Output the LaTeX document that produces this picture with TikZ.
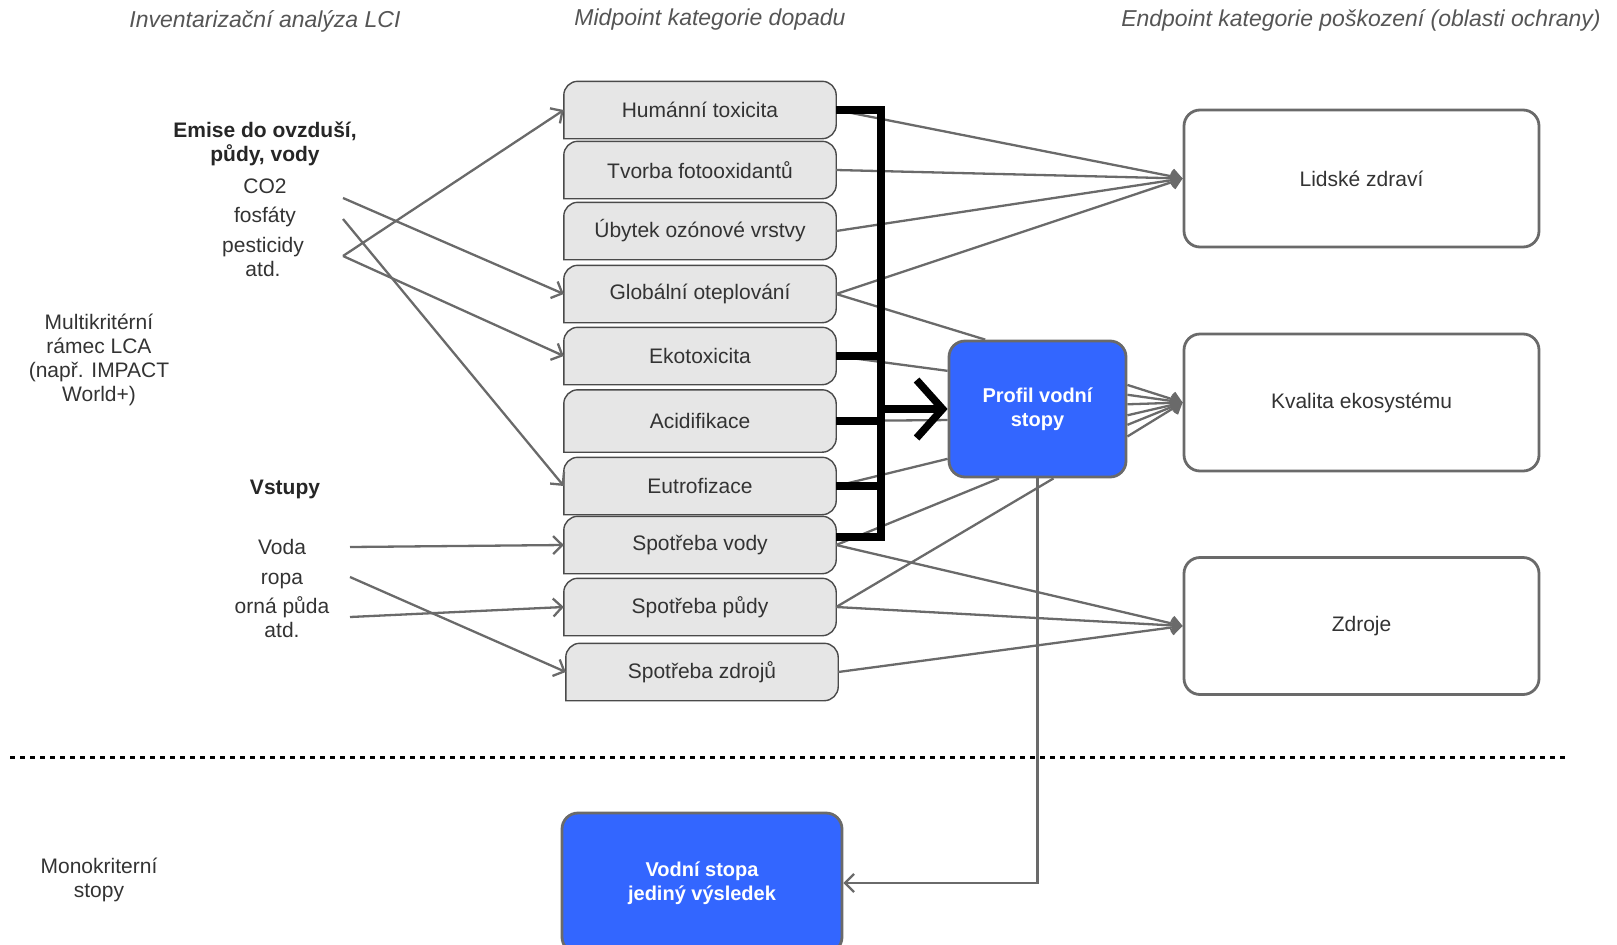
\documentclass[tikz,border=0pt]{standalone}
\usepackage{fontspec}
\setmainfont{Liberation Sans}
\usepackage{tikz}
\usetikzlibrary{arrows.meta,backgrounds}

\definecolor{linegray}{HTML}{6A6A6A}
\definecolor{cardfill}{HTML}{E6E6E6}
\definecolor{cardline}{HTML}{4A4A4A}
\definecolor{stopblue}{HTML}{3366FF}
\definecolor{txtgray}{HTML}{333333}
\definecolor{headgray}{HTML}{555555}

\begin{document}
\begin{tikzpicture}[x=1pt,y=-1pt,
  txt/.style={text=txtgray,font=\fontsize{21}{24}\selectfont,align=center,inner sep=0pt},
  head/.style={text=headgray,font=\fontsize{23}{26}\selectfont\itshape,inner sep=0pt},
  bold/.style={txt,font=\fontsize{21}{24}\selectfont\bfseries,text=black!85},
  mid/.style={txt,minimum width=272pt,minimum height=57pt},
  card/.style={draw=cardline,fill=cardfill,line width=1.4pt},
  endbox/.style={txt,draw=linegray,line width=2.8pt,rounded corners=16pt,minimum width=355pt,minimum height=137pt},
  bluebox/.style={draw=linegray,fill=stopblue,line width=2.8pt,rounded corners=16pt,text=white,font=\fontsize{20}{24}\selectfont\bfseries,align=center},
  link/.style={draw=linegray,line width=2.3pt},
  inarr/.style={link,-{Straight Barb[length=9pt,width=18pt]}},
  outarr/.style={link,-{Straight Barb[length=9pt,width=14pt]}},
  bus/.style={line width=7.5pt,black},
  bigarr/.style={bus,-{Straight Barb[length=26pt,width=58pt]}},
  dotline/.style={line width=3pt,dash pattern=on 5pt off 5pt}]
  \useasboundingbox (0,0) rectangle (1617,945);

  \node[head] (h1) at (265,21) {Inventarizační analýza LCI};
  \node[head] (h2) at (710,20) {Midpoint kategorie dopadu};
  \node[head] (h3) at (1361,20) {Endpoint kategorie poškození (oblasti ochrany)};

  \node[mid] (ht) at (700,110) {Humánní toxicita};
  \node[mid] (tf) at (700,170) {Tvorba fotooxidantů};
  \node[mid] (uo) at (700,231) {Úbytek ozónové vrstvy};
  \node[mid] (go) at (700,294) {Globální oteplování};
  \node[mid] (ek) at (700,356) {Ekotoxicita};
  \node[mid,minimum height=62pt] (ac) at (700,421) {Acidifikace};
  \node[mid] (eu) at (700,486) {Eutrofizace};
  \node[mid] (sv) at (700,545) {Spotřeba vody};
  \node[mid] (sp) at (700,607) {Spotřeba půdy};
  \node[mid] (sz) at (702,672) {Spotřeba zdrojů};
  \begin{scope}[on background layer]
    \foreach \n in {ht,tf,uo,go,ek,ac,eu,sv,sp,sz}
      \draw[card] (\n.south west) [rounded corners=14pt] -- (\n.north west) -- (\n.north east) -- (\n.south east) [sharp corners] -- cycle;
  \end{scope}

  \node[endbox] (lz) at (1361.5,178.5) {Lidské zdraví};
  \node[endbox] (kv) at (1361.5,402.5) {Kvalita ekosystému};
  \node[endbox] (zd) at (1361.5,626) {Zdroje};

  \node[bluebox,minimum width=177pt,minimum height=136pt] (pv) at (1037.5,409) {Profil vodní\\stopy};
  \node[bluebox,minimum width=280pt,minimum height=140pt] (vs) at (702,883) {Vodní stopa\\jediný výsledek};

  \node[txt] (mk) at (99,360) {Multikritérní\\rámec LCA\\(např. IMPACT\\World+)};
  \node[txt] (mono) at (99,880) {Monokriterní\\stopy};
  \node[bold] (em) at (265,144) {Emise do ovzduší,\\půdy, vody};
  \node[txt] (co) at (265,186) {CO2};
  \node[txt] (fo) at (265,217) {fosfáty};
  \node[txt] (pe) at (263,257) {pesticidy\\atd.};
  \node[bold] (vst) at (285,489) {Vstupy};
  \node[txt] (vo) at (282,547) {Voda};
  \node[txt] (ro) at (282,581) {ropa};
  \node[txt] (or) at (282,617) {orná půda\\atd.};

  \coordinate (e1) at (343,198);
  \coordinate (e2) at (343,219);
  \coordinate (e3) at (343,256);
  \coordinate (v1) at (350,547);
  \coordinate (v2) at (350,577);
  \coordinate (v3) at (350,617);
  \draw[inarr] (e1) -- (go.west);
  \draw[inarr] (e2) -- (eu.west);
  \draw[inarr] (e3) -- (ht.west);
  \draw[inarr] (e3) -- (ek.west);
  \draw[inarr] (v1) -- (sv.west);
  \draw[inarr] (v2) -- (sz.west);
  \draw[inarr] (v3) -- (sp.west);

  \foreach \n in {ht,tf,uo,go} \draw[outarr] (\n.east) -- (lz.west);
  \foreach \n in {sv,sp,sz} \draw[outarr] (\n.east) -- (zd.west);
  \foreach \a in {15,9,3,356,350,343} \draw[outarr] (pv.\a) -- (kv.west);
  \draw[link] (go.east) -- (pv.127);
  \draw[link] (ek.east) -- (pv.157);
  \draw[link] (ac.east) -- (pv.187);
  \draw[link] (eu.east) -- (pv.209);
  \draw[link] (sv.east) -- (pv.241);
  \draw[link] (sp.east) -- (pv.283);

  \coordinate (bt) at (881,110);
  \coordinate (bb) at (881,537);
  \draw[bus] (ht.east) -- (bt) -- (bb) -- (sv.east |- bb);
  \foreach \n in {ek,ac,eu} \draw[bus] (\n.east) -- (\n.east -| bt);
  \draw[bigarr] (bt |- pv.west) -- (pv.west);

  \coordinate (dl) at (10,757);
  \coordinate (dr) at (1569,757);
  \draw[dotline] (dl) -- (dr);
  \draw[inarr] (pv.south) |- (vs.east);
\end{tikzpicture}
\end{document}
